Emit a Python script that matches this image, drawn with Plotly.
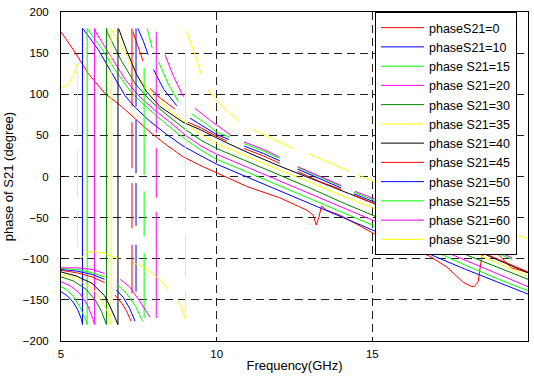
import plotly.graph_objects as go

NAMES = ["phaseS21=0", "phaseS21=10", "phase S21=15", "phase S21=20", "phase S21=30",
         "phase S21=35", "phase S21=40", "phase S21=45", "phase S21=50", "phase S21=55",
         "phase S21=60", "phase S21=90"]
COLORS = ["#ff0000", "#0000ff", "#00ff00", "#ff00ff", "#008000", "#ffff00", "#000000",
          "#ff0000", "#0000ff", "#00ff00", "#ff00ff", "#ffff00"]

# frequency (GHz) / phase (deg); None marks a gap in the measured trace
F_0 = [5.0, 5.45, 5.88, 6.41, 6.95, 7.43, 7.86, 8.4, 8.92, 9.5, 10.0, 10.5, 10.96, 11.5, 12.03, 12.5,
       12.9, 13.1, 13.2, 13.28, 13.37, 13.53, 13.96, 14.5, 15.03, 15.5, 16.0, 16.85, 17.39, 17.9, 18.14,
       18.27, 18.4, 18.5, 18.65, 18.78, 19.1, 19.47, 19.75, 20.0]
P_0 = [176, 151, 125, 101, 85, 69, 54, 38, 24, 13, 4, -4, -12, -19, -26, -34,
       -41, -47, -59, -50, -36, -41, -47, -58, -69, -77, -84, -97, -110, -128, -133,
       -134, -128, -101, -83, -85, -97, -111, -114, -117]

F_10 = [5.0, 5.2, 5.4, 5.55, 5.66, 5.69, 5.69, 5.72, 6.2, 6.63, 7.06, 7.38, 7.86, 8.4, 8.92, 9.5,
        10, 11, 12, 13, 14, 15, 16, 17, 18, 19, 20]
P_10 = [-140, -145, -153, -163, -174, -180, 180, 179, 154, 126, 98, 84, 67, 51, 37, 25,
        15, -1, -17, -33, -49, -65, -81, -97, -113, -128, -143]

F_15 = [5.0, 5.2, 5.4, 5.6, 5.8, 5.84, 5.84, 5.88, 6.3, 6.73, 7.22, 7.7, 8.4, 9.0, 9.5,
        10, 11, 12, 13, 14, 15, 16, 17, 18, 19, 20]
P_15 = [-134, -138, -146, -158, -175, -180, 180, 178, 156, 130, 104, 86, 63, 45, 32,
        21, 5, -11, -27, -43, -59, -75, -91, -108, -124, -139]

F_20 = [5.0, 5.3, 5.6, 5.85, 6.03, 6.08, 6.08, 6.11, 6.57, 7.06, 7.5, 8.0, 8.5, 9.0, 9.5,
        10, 11, 12, 13, 14, 15, 16, 17, 18, 19, 20]
P_20 = [-128, -133, -142, -156, -174, -180, 180, 176, 148, 118, 98, 81, 66, 50, 37,
        27, 11, -5, -21, -37, -53, -69, -86, -102, -118, -134]

F_30 = [5.0, 5.4, 5.8, 6.1, 6.3, 6.41, 6.46, 6.46, 6.49, 6.95, 7.4, 7.9, 8.4, 9.0, 9.5,
        10, 11, 12, 13, 14, 15, 16, 17, 18, 19, 20]
P_30 = [-122, -127, -137, -150, -164, -175, -180, 180, 175, 140, 112, 91, 75, 57, 44,
        34, 18, 2, -14, -31, -47, -63, -79, -95, -110, -125]

F_35 = [5.0, 5.5, 6.0, 6.3, 6.5, 6.58, 6.61, 6.61, 6.63, 7.06, 7.48, 8.02, 8.5, 9.0, 9.5,
        10, 11, 12, 13, 14, 15, 16, 17, 18, 19, 20]
P_35 = [-119, -124, -136, -150, -165, -176, -180, 180, 178, 150, 121, 96, 80, 65, 51,
        40, 24, 8, -7, -23, -38, -55, -72, -88, -105, -121]

F_40 = [5.0, 5.5, 6.0, 6.4, 6.6, 6.79, 6.83, 6.83, 6.86, 7.1, 7.43, 7.75, 8.18, 8.92, 9.47,
        10.32, 11.07, 12, 13, 14, 15, 16, 17, 18, 19, 20]
P_40 = [-116, -121, -130, -145, -160, -176, -180, 180, 179, 154, 124, 103, 85, 66, 57,
        41, 28, 13, -2, -17, -32, -50, -67, -84, -101, -117]

F_45 = [5.0, 5.5, 6.0, 6.4, None, 6.73, 6.95, 7.1, 7.25, None, 7.28, 7.28, None, 7.28, 7.28, None,
        7.28, 7.28, None, 7.28, 7.28, None, 7.31, 7.45, 7.64, None, 7.86, 8.2, 8.66, None,
        9.08, 9.5, 10.0, 10.33, None, 10.88, 11.5, 12.03, None, 12.6, 13.3, 14.0, None,
        14.4, 15.2, 16.0, 17.0, 18.0, 19.0, 20.0]
P_45 = [-114, -117, -122, -129, None, -144, -154, -163, -176, None, 180, 85, None, 66, 10, None,
        -8, -63, None, -83, -142, None, 176, 160, 140, None, 107, 95, 82, None,
        66, 59, 49, 43, None, 34, 25, 16, None, 6, -6, -16, None,
        -23, -35, -49, -66, -83, -100, -116]

F_50 = [5.0, 5.5, 6.0, 6.4, None, 6.78, 7.0, 7.2, 7.38, None, 7.41, 7.41, None, 7.41, 7.41, None,
        7.41, 7.41, None, 7.41, 7.41, None, 7.47, 7.65, 7.8, None, 7.97, 8.3, 8.72, None,
        9.14, 9.6, 10.0, 10.4, None, 10.88, 11.5, 12.03, None, 12.6, 13.3, 14.0, None,
        14.4, 15.2, None, 17.27, 17.72]
P_50 = [-113, -115, -119, -125, None, -138, -147, -160, -176, None, 180, 85, None, 69, 4, None,
        -8, -60, None, -83, -140, None, 180, 164, 148, None, 130, 106, 86, None,
        71, 60, 51, 45, None, 37, 28, 19, None, 9, -3, -14, None,
        -21, -33, None, -69, -77]

F_55 = [5.0, 5.5, 6.0, 6.4, None, 6.85, 7.1, 7.4, 7.62, None, 7.67, 7.67, None, 7.67, 7.67, None,
        7.67, 7.67, None, 7.77, 7.85, 7.93, None, 8.13, 8.45, 8.77, None,
        9.2, 9.7, 10.0, 10.4, None, 10.88, 11.5, 12.03, None, 12.6, 13.3, 14.0, None,
        14.4, 15.2, None, 18.2, 18.8, 19.5]
P_55 = [-112, -113, -117, -122, None, -133, -142, -158, -176, None, 132, 2, None, -18, -73, None,
        -93, -172, None, 180, 168, 156, None, 140, 112, 91, None,
        76, 63, 54, 48, None, 40, 31, 22, None, 11, -1, -12, None,
        -19, -31, None, -82, -90, -101]

F_60 = [5.0, 5.5, 6.0, 6.4, None, 6.9, 7.2, 7.5, 7.86, None, 8.06, 8.06, None, 8.06, 8.06, None,
        8.06, 8.06, None, 8.34, 8.6, 8.93, None, 9.3, 9.8, 10.43, None,
        10.88, 11.5, 12.0, None, 12.6, 13.3, 14.0, None, 14.44, 15.2, None, 18.2, 18.8, 19.5]
P_60 = [-111, -111, -113, -118, None, -125, -134, -150, -171, None, 176, 53, None, 35, -26, None,
        -43, -172, None, 148, 123, 97, None, 83, 68, 51, None,
        42, 33, 24, None, 12, 0, -11, None, -18, -29, None, -80, -88, -99]

F_90 = [5.0, 5.15, 5.3, 5.42, 5.5, None, 5.53, 5.53, None, 5.53, 5.53, None, 5.53, 5.53, None,
        5.62, 5.72, 5.85, 6.04, 6.36, 6.84, None, 7.32, 7.6, 7.86, 8.2, 8.45, None,
        8.77, 8.9, 8.99, 9.0, None, 9.0, 9.0, None, 9.0, 9.0, None, 9.03, 9.25, 9.52, None,
        9.73, 10.0, 10.32, 10.75, None, 11.18, 11.82, 12.46, None, 12.94, 13.6, 14.28, None,
        14.55, 15.09, 16.0, 17.0, 18.0, 19.0, 20.0]
P_90 = [108, 110, 116, 124, 137, None, 138, 50, None, 32, -25, None, -43, -85, None,
        -100, -97, -92, -91, -93, -100, None, -105, -109, -116, -126, -138, None,
        -152, -162, -173, -138, None, -122, -70, None, -45, 150, None, 177, 154, 123, None,
        105, 92, 80, 67, None, 57, 45, 34, None, 28, 17, 6, None,
        2, -7, -20, -34, -48, -62, -76]

FREQS = [F_0, F_10, F_15, F_20, F_30, F_35, F_40, F_45, F_50, F_55, F_60, F_90]
PHASES = [P_0, P_10, P_15, P_20, P_30, P_35, P_40, P_45, P_50, P_55, P_60, P_90]

FONT = "Liberation Sans, Arial, sans-serif"

fig = go.Figure()
for name, color, fx, py in zip(NAMES, COLORS, FREQS, PHASES):
    fig.add_trace(go.Scatter(x=fx, y=py, mode="lines", name=name,
                             line=dict(color=color, width=1), connectgaps=False))

axis_common = dict(showline=True, linecolor="black", linewidth=1, mirror=True,
                   ticks="inside", ticklen=4, tickcolor="black",
                   showgrid=True, gridcolor="#222222", gridwidth=1, griddash="8px,5px",
                   zeroline=False, tickfont=dict(family=FONT, size=11.5, color="black"))

fig.update_layout(
    width=534, height=376,
    margin=dict(l=61, r=6, t=12, b=35),
    paper_bgcolor="white", plot_bgcolor="white",
    font=dict(family=FONT, size=11.5, color="black"),
    xaxis=dict(range=[5, 20], tickvals=[5, 10, 15, 20], ticklabelstandoff=2,
               title=dict(text="Frequency(GHz)", font=dict(family=FONT, size=13), standoff=2),
               **axis_common),
    yaxis=dict(range=[-200, 200], dtick=50, ticklabelstandoff=9,
               title=dict(text="phase of S21 (degree)", font=dict(family=FONT, size=13), standoff=6),
               **axis_common),
    legend=dict(x=0.6724, y=1, xanchor="left", yanchor="top",
                bgcolor="white", bordercolor="black", borderwidth=1,
                font=dict(family=FONT, size=12.5, color="black"),
                itemwidth=43, tracegroupgap=0),
    showlegend=True,
)

fig.write_html("out.html")
